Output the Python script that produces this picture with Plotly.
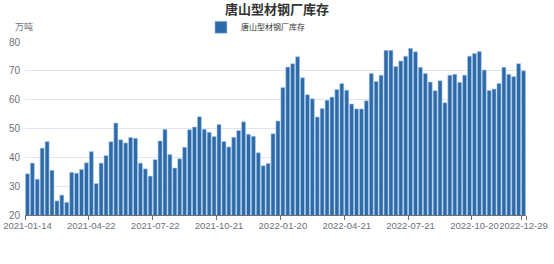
import pandas as pd
import plotly.graph_objects as go

title = "唐山型材钢厂库存"
series_name = "唐山型材钢厂库存"
unit = "万吨"

# weekly dates (Spring Festival week 2021-02-11 missing)
dates = [d.strftime("%Y-%m-%d") for d in pd.date_range("2021-01-14", "2022-12-29", freq="7D")
         if d.strftime("%Y-%m-%d") != "2021-02-11"]

values = [
    34.3, 38.0, 32.4, 43.2, 45.5, 35.5, 24.9, 26.9, 24.4, 34.8,
    34.5, 35.8, 38.1, 42.0, 30.9, 38.0, 40.6, 45.4, 51.9, 46.1,
    45.0, 46.9, 46.6, 38.0, 36.0, 33.5, 39.2, 45.7, 49.7, 41.0,
    36.3, 39.5, 43.5, 49.6, 50.5, 54.1, 49.7, 48.7, 47.2, 51.4,
    45.5, 43.6, 47.0, 49.3, 52.3, 48.0, 47.3, 41.6, 37.1, 37.9,
    48.2, 52.6, 64.2, 71.3, 72.5, 74.9, 67.6, 61.7, 60.3, 54.0,
    56.9, 59.8, 60.9, 63.5, 65.6, 63.3, 58.5, 56.8, 56.8, 59.6,
    69.1, 66.3, 68.5, 77.1, 77.1, 71.5, 73.4, 75.1, 77.8, 76.6,
    71.2, 69.1, 66.1, 63.1, 66.6, 58.9, 68.5, 68.8, 66.0, 68.5,
    75.1, 76.0, 76.7, 70.3, 63.2, 63.7, 65.6, 71.2, 68.8, 68.0,
    72.5, 70.0,
]

tick_labels = ["2021-01-14", "2021-04-22", "2021-07-22", "2021-10-21", "2022-01-20",
               "2022-04-21", "2022-07-21", "2022-10-20", "2022-12-29"]
y_ticks = [20, 30, 40, 50, 60, 70, 80]

fig = go.Figure()
fig.add_trace(go.Bar(
    x=dates, y=values, name=series_name,
    marker=dict(color="#2F6AA8", line=dict(color="#A9CCEE", width=0.6)),
))

fig.update_layout(
    width=554, height=264,
    margin=dict(l=25, r=28, t=42, b=49, autoexpand=False),
    paper_bgcolor="white", plot_bgcolor="white",
    font=dict(family="Liberation Sans, Noto Sans, sans-serif", color="#6E7079", size=10),
    bargap=0.18,
    showlegend=True,
    title=dict(text=f"<b>{title}</b>", x=0.5, xanchor="center", y=0.965, yanchor="middle",
               font=dict(size=13, color="#333333", family="Noto Sans CJK SC, sans-serif")),
    legend=dict(orientation="h", x=0.46, xanchor="center", y=1.085, yanchor="middle",
                font=dict(size=8, color="#333333", family="Noto Sans CJK SC, sans-serif"),
                bgcolor="rgba(0,0,0,0)", itemwidth=30),
    xaxis=dict(type="category", tickmode="array", tickvals=tick_labels, ticktext=tick_labels,
               tickson="boundaries", ticks="outside", ticklen=4, tickcolor="#6E7079",
               showline=True, linecolor="#6E7079", linewidth=1, showgrid=False,
               automargin=False, tickangle=0, ticklabelstandoff=2,
               tickfont=dict(size=9.5, color="#6E7079")),
    yaxis=dict(range=[20, 80], tickvals=y_ticks, showgrid=True, gridcolor="#E0E6F1",
               zeroline=False, showline=False, ticks="", automargin=False,
               ticklabelstandoff=4, tickfont=dict(size=10, color="#6E7079")),
    annotations=[dict(text=unit, xref="paper", yref="paper", x=-0.024, y=1.087,
                      xanchor="left", yanchor="middle", showarrow=False,
                      font=dict(size=9, color="#6E7079", family="Noto Sans CJK SC, sans-serif"))],
)

fig.write_html("out.html")
